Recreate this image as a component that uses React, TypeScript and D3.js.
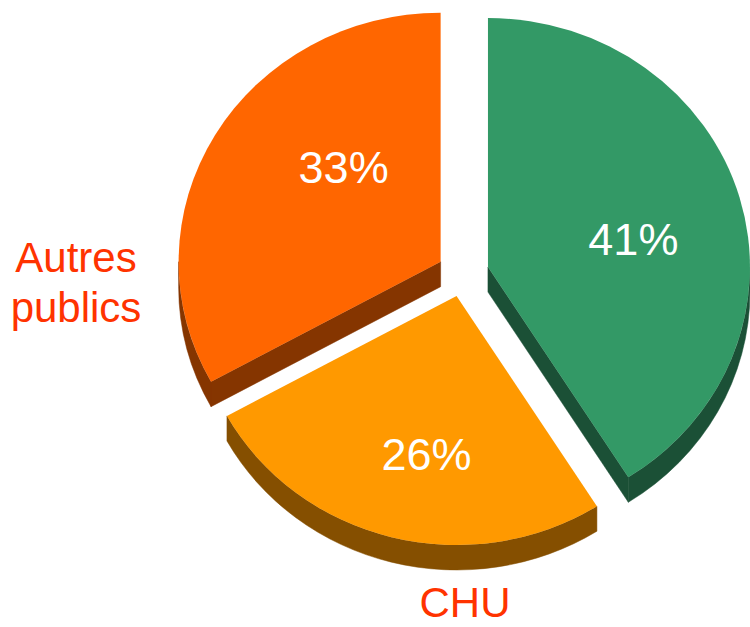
import React from "react";
import * as d3 from "d3";

// ---- data ----
const categories = ["Autre", "CHU", "Autres publics"];
const shares = [41, 26, 33];
const percentLabels = ["41%", "26%", "33%"];
const topColors = ["#339966", "#FF9900", "#FF6600"];
const sideColors = ["#1B5036", "#854F00", "#853500"];

// ---- layout ----
const W = 750;
const H = 627;
const CX = 463;
const CY = 273.5;
const RX = 262;
const RY = 249;
const DEPTH = 25;
const EXPLODE_X = 26;
const EXPLODE_Y = 23.2;
// per-slice label placement (angle in degrees, radius fraction)
const labelPlace = [
  { deg: 78.7, f: 0.566 },
  { deg: 190.2, f: 0.646 },
  { deg: 315.8, f: 0.531 },
];
const categoryLabelPlace: ({ x: number; y: number } | null)[] = [
  null,
  { x: 465, y: 617 },
  { x: 76, y: 272 },
];

const total = d3.sum(shares);
const angle = d3.scaleLinear().domain([0, total]).range([0, 2 * Math.PI]);

type Pt = [number, number];
const onEllipse = (o: Pt, a: number, f = 1): Pt => [
  o[0] + f * RX * Math.sin(a),
  o[1] - f * RY * Math.cos(a),
];
const down = (p: Pt): Pt => [p[0], p[1] + DEPTH];

function slices() {
  let acc = 0;
  return shares.map((v, i) => {
    const a0 = angle(acc);
    acc += v;
    const a1 = angle(acc);
    const mid = (a0 + a1) / 2;
    const apex: Pt = [CX + EXPLODE_X * Math.sin(mid), CY - EXPLODE_Y * Math.cos(mid)];
    return { i, a0, a1, mid, apex };
  });
}

function topPath(apex: Pt, a0: number, a1: number) {
  const p0 = onEllipse(apex, a0);
  const p1 = onEllipse(apex, a1);
  const large = a1 - a0 > Math.PI ? 1 : 0;
  return `M${apex[0]},${apex[1]}L${p0[0]},${p0[1]}A${RX},${RY} 0 ${large} 1 ${p1[0]},${p1[1]}Z`;
}

function outerWall(apex: Pt, a0: number, a1: number) {
  const lo = Math.max(a0, Math.PI / 2);
  const hi = Math.min(a1, (3 * Math.PI) / 2);
  if (hi <= lo) return null;
  const p0 = onEllipse(apex, lo);
  const p1 = onEllipse(apex, hi);
  const q0 = down(p0);
  const q1 = down(p1);
  const large = hi - lo > Math.PI ? 1 : 0;
  return `M${p0[0]},${p0[1]}A${RX},${RY} 0 ${large} 1 ${p1[0]},${p1[1]}L${q1[0]},${q1[1]}A${RX},${RY} 0 ${large} 0 ${q0[0]},${q0[1]}Z`;
}

function radialFace(apex: Pt, a: number) {
  const p = onEllipse(apex, a);
  const q = down(p);
  const r = down(apex);
  return `M${apex[0]},${apex[1]}L${p[0]},${p[1]}L${q[0]},${q[1]}L${r[0]},${r[1]}Z`;
}

export default function App() {
  const sl = slices();
  // back to front: by apex y
  const order = [...sl].sort((a, b) => a.apex[1] - b.apex[1]);
  const font = "'Liberation Sans', Arial, Helvetica, sans-serif";
  return (
    <svg
      width={W}
      height={H}
      viewBox={`0 0 ${W} ${H}`}
      style={{ position: "absolute", left: 0, top: 0, background: "#fff" }}
    >
      {order.map((s) => {
        const side = sideColors[s.i];
        const faces: string[] = [];
        if (Math.sin(s.a0) < -1e-6) faces.push(radialFace(s.apex, s.a0));
        if (Math.sin(s.a1) > 1e-6) faces.push(radialFace(s.apex, s.a1));
        const wall = outerWall(s.apex, s.a0, s.a1);
        if (wall) faces.push(wall);
        return (
          <g key={s.i}>
            {faces.map((d, k) => (
              <path key={k} d={d} fill={side} stroke={side} strokeWidth={0.5} />
            ))}
            <path d={topPath(s.apex, s.a0, s.a1)} fill={topColors[s.i]} />
          </g>
        );
      })}
      {sl.map((s) => {
        const lp = labelPlace[s.i];
        const [x, y] = onEllipse(s.apex, (lp.deg * Math.PI) / 180, lp.f);
        return (
          <text
            key={"p" + s.i}
            x={x}
            y={y + 15.7}
            textAnchor="middle"
            fill="#FFFFFF"
            fontFamily={font}
            fontSize={45}
          >
            {percentLabels[s.i]}
          </text>
        );
      })}
      {categories.map((c, i) => {
        const p = categoryLabelPlace[i];
        if (!p) return null;
        const words = c.split(" ");
        return (
          <text
            key={"c" + i}
            x={p.x}
            y={p.y}
            textAnchor="middle"
            fill="#FF3300"
            fontFamily={font}
            fontSize={42}
          >
            {words.map((w, k) => (
              <tspan key={k} x={p.x} dy={k === 0 ? 0 : 50}>
                {w}
              </tspan>
            ))}
          </text>
        );
      })}
    </svg>
  );
}
